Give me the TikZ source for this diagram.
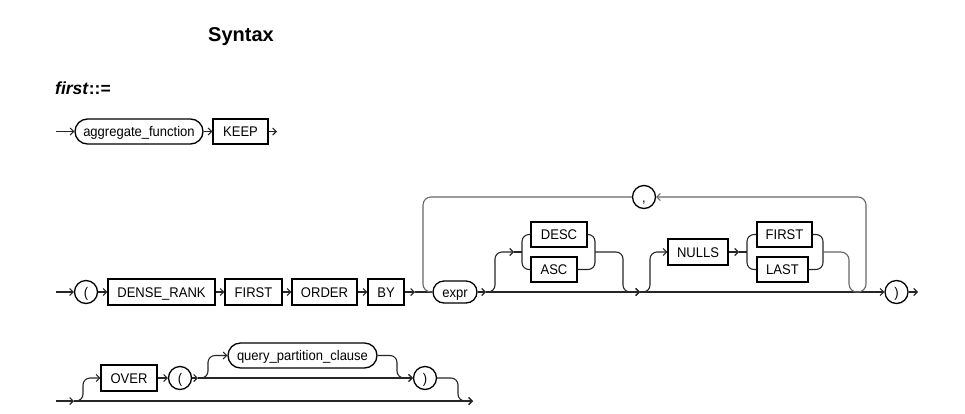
\documentclass[tikz,border=0pt]{standalone}
\usepackage{fontspec}
\setmainfont{Liberation Sans}
\newfontfamily\railfont[FakeStretch=0.93]{Liberation Sans}
\usetikzlibrary{arrows.meta}
\begin{document}
\begin{tikzpicture}[x=1pt,y=-1pt,
  every node/.style={inner sep=0pt, font=\railfont\fontsize{14}{16}\selectfont, text height=10pt, text depth=0pt},
  kw/.style={draw, line width=1.3pt, minimum height=26pt},
  nt/.style={draw, line width=1.3pt, rounded corners=12pt, minimum height=24pt},
  sym/.style={draw, circle, line width=1.3pt, minimum size=23pt},
  ar/.style={draw=black!85, line width=1.1pt, -{Straight Barb[length=3.5pt,width=7pt]}},
  ln/.style={draw=black!85, line width=1.1pt},
  loopln/.style={draw=black!60, line width=1.1pt, rounded corners=8pt},
]
\useasboundingbox (0,0) rectangle (965,413);

% headings
\node[anchor=base west, font=\fontsize{20}{24}\selectfont\bfseries, text height=, text depth=] (title) at (208,41.5) {Syntax};
\node[anchor=base west, font=\fontsize{17.5}{20}\selectfont\bfseries, text height=, text depth=] (lhs) at (55,94.5) {\textit{first}::=};

% row 1
\coordinate (s1) at (56,131.5);
\node[nt, minimum width=128pt, minimum height=25pt, rounded corners=12.5pt] (af) at (139,131.5) {aggregate\_function};
\node[kw, minimum width=55pt, minimum height=25pt] (keep) at (240.5,131.5) {KEEP};
\coordinate (e1) at (277,131.5);
\draw[ar] (s1) -- (af);
\draw[ar] (af) -- (keep);
\draw[ar] (keep) -- (e1);

% row 2
\coordinate (s2) at (56,292);
\node[sym] (lp) at (86,292) {(};
\node[kw, minimum width=107pt] (dr) at (161.5,292) {DENSE\_RANK};
\node[kw, minimum width=57pt] (first) at (253.5,292) {FIRST};
\node[kw, minimum width=65pt] (order) at (324.5,292) {ORDER};
\node[kw, minimum width=36pt] (by) at (386,292) {BY};
\node[nt, minimum width=44pt, minimum height=22pt, rounded corners=11pt] (expr) at (455,292) {expr};
\coordinate (j1) at (415,292);
\coordinate (j2) at (486,292);
\node[kw, minimum width=56pt, minimum height=25pt] (desc) at (559,234.5) {DESC};
\node[kw, minimum width=46pt, minimum height=25pt] (asc) at (554,269.5) {ASC};
\coordinate (j3) at (640,292);
\node[kw, minimum width=60pt] (nulls) at (698,252) {NULLS};
\node[kw, minimum width=55pt, minimum height=25pt] (nfirst) at (784.5,234.5) {FIRST};
\node[kw, minimum width=51pt, minimum height=25pt] (nlast) at (782.5,269.5) {LAST};
\node[sym] (comma) at (644,197) {,};
\node[sym] (rp) at (896.5,292) {)};
\coordinate (e2) at (918,292);
\coordinate (b1) at (514,252);
\coordinate (b1r) at (595,252);
\coordinate (b2) at (739,252);
\coordinate (b2r) at (823,252);

\draw[ar] (s2) -- (lp);
\draw[ar] (lp) -- (dr);
\draw[ar] (dr) -- (first);
\draw[ar] (first) -- (order);
\draw[ar] (order) -- (by);
\draw[ar] (by) -- (j1);
\draw[ln] (j1) -- (expr);
\draw[ar] (expr) -- (j2);
\draw[ar] (j2) -- (j3);
\draw[ar] (j3) -- (rp);
\draw[ar] (rp) -- (e2);

% DESC / ASC
\draw[ar, rounded corners=7pt] (j2) -- (495,292) -- (495,252) -- (b1);
\draw[ln] (b1) -- (522,252);
\draw[ln, rounded corners=7pt] (desc.west) -- (522,234.5) -- (522,269.5) -- (asc.west);
\draw[ln, rounded corners=7pt] (desc.east) -- (595,234.5) -- (595,269.5) -- (asc.east);
\draw[ar, rounded corners=7pt] (b1r) -- (623,252) -- (623,292) -- (j3);

% NULLS FIRST / LAST
\draw[ar, rounded corners=7pt] (j3) -- (650,292) -- (650,252) -- (nulls.west);
\draw[ar] (nulls) -- (b2);
\draw[ln] (b2) -- (747,252);
\draw[ln, rounded corners=7pt] (nfirst.west) -- (747,234.5) -- (747,269.5) -- (nlast.west);
\draw[ln, rounded corners=7pt] (nfirst.east) -- (823,234.5) -- (823,269.5) -- (nlast.east);

% loop back with comma
\draw[loopln, -{Straight Barb[length=3.5pt,width=7pt]}] (b2r) -- (849,252) -- (849,292) -- (866,292) -- (866,197) -- (comma.east);
\draw[loopln] (comma.west) -- (423,197) -- (423,292) -- (expr.west);

% row 3
\coordinate (s3) at (56,401);
\coordinate (j5) at (74,401);
\coordinate (e3) at (473,401);
\node[kw, minimum width=56pt] (over) at (129,378) {OVER};
\node[sym] (lp2) at (180,378) {(};
\coordinate (j6) at (198,378);
\node[nt, minimum width=149pt, minimum height=25pt, rounded corners=12.5pt] (qpc) at (302.5,355.5) {query\_partition\_clause};
\node[sym] (rp2) at (425,378) {)};
\draw[ar] (s3) -- (j5);
\draw[ar] (j5) -- (e3);
\draw[ar, rounded corners=7pt] (j5) -- (83,401) -- (83,378) -- (over.west);
\draw[ar] (over) -- (lp2);
\draw[ar] (lp2) -- (j6);
\draw[ar] (j6) -- (rp2);
\draw[ar, rounded corners=7pt] (j6) -- (208,378) -- (208,355.5) -- (qpc.west);
\draw[ar, rounded corners=7pt] (qpc.east) -- (397,355.5) -- (397,378) -- (rp2.west);
\draw[ar, rounded corners=7pt] (rp2.east) -- (458,378) -- (458,401) -- (e3);
\end{tikzpicture}
\end{document}
